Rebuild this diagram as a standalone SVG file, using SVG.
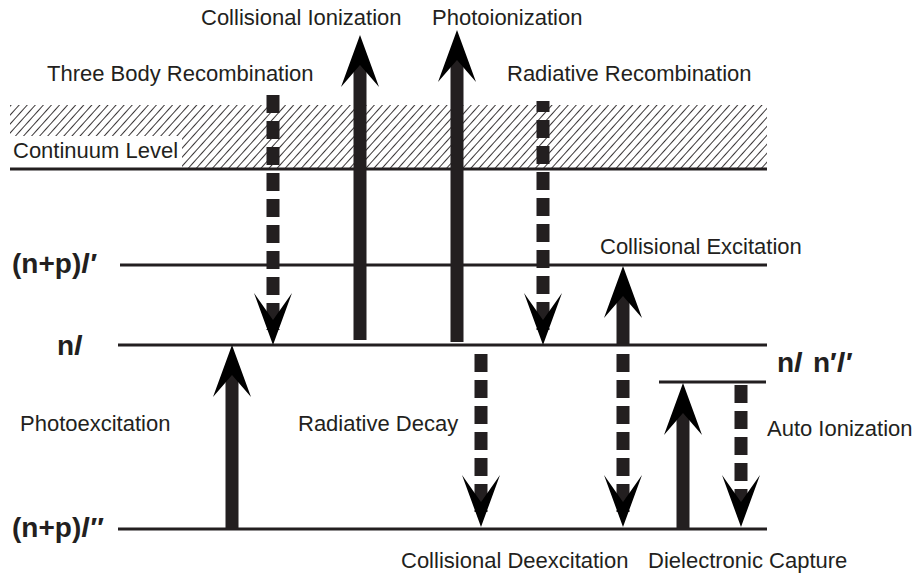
<svg xmlns="http://www.w3.org/2000/svg" width="915" height="578" viewBox="0 0 915 578">
<style>
.lbl{font-family:"Liberation Sans",Arial,sans-serif;font-size:22px;fill:#231f20}
.lv{font-family:"Liberation Sans",Arial,sans-serif;font-size:28px;font-weight:bold;fill:#231f20}
.it{font-style:italic}
.level{stroke:#231f20;stroke-width:3;fill:none}
.shaft{stroke:#231f20;stroke-width:13;fill:none}
.dash{stroke:#231f20;stroke-width:13;fill:none;stroke-dasharray:18 8}
.head{fill:#000}
</style>
<defs>
<pattern id="hatch" width="6" height="6" patternUnits="userSpaceOnUse" patternTransform="rotate(42)">
<line x1="0" y1="0" x2="0" y2="6" stroke="#231f20" stroke-width="1.8"/>
</pattern>
<path id="up" d="M0,0 L19,52 L0,30 L-19,52 Z"/>
<path id="down" d="M0,0 L-19,-52 L0,-25 L19,-52 Z"/>
</defs>
<rect width="915" height="578" fill="#fff"/>

<g id="continuum">
<rect x="10" y="105" width="757" height="64" fill="url(#hatch)"/>
<rect x="10" y="136" width="172" height="33" fill="#fff"/>
<line class="level" x1="10" y1="169" x2="767" y2="169"/>
<text class="lbl" x="13" y="158">Continuum Level</text>
</g>

<g id="level-npl1">
<line class="level" x1="120" y1="265" x2="767" y2="265"/>
<text class="lv" x="12" y="273">(n+p)<tspan class="it">l′</tspan></text>
</g>
<g id="level-nl">
<line class="level" x1="118" y1="345" x2="767" y2="345"/>
<text class="lv" x="57" y="355">n<tspan class="it">l</tspan></text>
</g>
<g id="level-nlnl">
<line class="level" x1="659" y1="382" x2="766" y2="382"/>
<text class="lv" x="777" y="372">n<tspan class="it">l</tspan><tspan x="813">n′</tspan><tspan class="it">l′</tspan></text>
</g>
<g id="level-npl2">
<line class="level" x1="118" y1="529" x2="767" y2="529"/>
<text class="lv" x="12" y="537">(n+p)<tspan class="it">l′′</tspan></text>
</g>

<g id="connectors">
<!-- Three Body Recombination -->
<line class="dash" x1="273" y1="95" x2="273" y2="330"/>
<use href="#down" class="head" x="273" y="345"/>
<!-- Collisional Ionization -->
<line class="shaft" x1="360" y1="60" x2="360" y2="340"/>
<use href="#up" class="head" x="360" y="35"/>
<!-- Photoionization -->
<line class="shaft" x1="457" y1="55" x2="457" y2="342"/>
<use href="#up" class="head" x="457" y="30"/>
<!-- Radiative Recombination -->
<line class="dash" x1="543" y1="101" x2="543" y2="330" style="stroke-dashoffset:7"/>
<use href="#down" class="head" x="543" y="345"/>
<!-- Collisional Excitation -->
<line class="shaft" x1="623" y1="290" x2="623" y2="345"/>
<use href="#up" class="head" x="623" y="266"/>
<!-- Photoexcitation -->
<line class="shaft" x1="232" y1="370" x2="232" y2="529"/>
<use href="#up" class="head" x="232" y="345"/>
<!-- Radiative Decay -->
<line class="dash" x1="481" y1="354" x2="481" y2="512"/>
<use href="#down" class="head" x="481" y="527"/>
<!-- Collisional Deexcitation -->
<line class="dash" x1="623" y1="354" x2="623" y2="512"/>
<use href="#down" class="head" x="623" y="527"/>
<!-- Dielectronic Capture -->
<line class="shaft" x1="683" y1="408" x2="683" y2="529"/>
<use href="#up" class="head" x="683" y="383"/>
<!-- Auto Ionization -->
<line class="dash" x1="741" y1="385" x2="741" y2="512"/>
<use href="#down" class="head" x="741" y="527"/>
</g>

<g id="labels">
<text class="lbl" x="201" y="25">Collisional Ionization</text>
<text class="lbl" x="432" y="25">Photoionization</text>
<text class="lbl" x="47" y="81">Three Body Recombination</text>
<text class="lbl" x="507" y="81">Radiative Recombination</text>
<text class="lbl" x="600" y="254">Collisional Excitation</text>
<text class="lbl" x="20" y="431">Photoexcitation</text>
<text class="lbl" x="298" y="431">Radiative Decay</text>
<text class="lbl" x="767" y="436">Auto Ionization</text>
<text class="lbl" x="401" y="568">Collisional Deexcitation</text>
<text class="lbl" x="648" y="568">Dielectronic Capture</text>
</g>
</svg>
